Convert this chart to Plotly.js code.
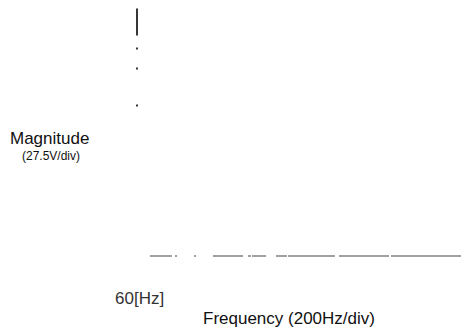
<!DOCTYPE html>
<html>
<head>
<meta charset="utf-8">
<script src="https://cdn.plot.ly/plotly-3.0.1.min.js"></script>
<style>
  html, body { margin: 0; padding: 0; background: #fff; }
  #chart { width: 461px; height: 327px; }
</style>
</head>
<body>
<div id="chart"></div>
<script>
// Spectrum of the line voltage: one fundamental component and a flat harmonic floor.
const fundamentalHz = [60];
const fundamentalV = [247.5];          // 9 divisions at 27.5 V/div
const floorHz = [112, 1356];           // span of the harmonic floor
const floorV = [0, 0];

const fundamentalLabel = '60[Hz]';
const xTitle = 'Frequency (200Hz/div)';
const yTitle = 'Magnitude';
const yScale = '(27.5V/div)';

const font = '"Liberation Sans", Arial, sans-serif';

// Stem of the fundamental, drawn from its tip down to zero.
const stem = {
  type: 'scatter', mode: 'lines',
  x: [fundamentalHz[0], fundamentalHz[0]],
  y: [fundamentalV[0], 0],
  line: { color: '#222', width: 1.8, dash: '27px,12px,2px,18px,2px,35px,2px,400px' },
  hoverinfo: 'skip'
};

// Harmonic floor along the zero line.
const floor = {
  type: 'scatter', mode: 'lines',
  x: floorHz, y: floorV,
  line: { color: '#444', width: 1.2,
          dash: '22px,3px,2px,17px,2px,17px,30px,5px,3px,1px,14px,10px,11px,1px,47px,4px,50px,2px,80px' },
  hoverinfo: 'skip'
};

const hidden = { visible: false, showgrid: false, zeroline: false, fixedrange: true };

const layout = {
  width: 461, height: 327,
  margin: { l: 0, r: 0, t: 0, b: 0 },
  paper_bgcolor: '#fff', plot_bgcolor: '#fff',
  showlegend: false,
  xaxis: Object.assign({ range: [-488, 1356] }, hidden),
  yaxis: Object.assign({ range: [-71, 256] }, hidden),
  annotations: [
    { x: -292, y: 118, text: yTitle, showarrow: false,
      font: { family: font, size: 17, color: '#111' } },
    { x: -286, y: 100, text: yScale, showarrow: false,
      font: { family: font, size: 12, color: '#111' } },
    { x: fundamentalHz[0] + 8, y: -42, text: fundamentalLabel, showarrow: false,
      font: { family: font, size: 17, color: '#333' } },
    { x: 668, y: -62, text: xTitle, showarrow: false,
      font: { family: font, size: 17, color: '#111' } }
  ]
};

Plotly.newPlot('chart', [stem, floor], layout, { staticPlot: true, displayModeBar: false });
</script>
</body>
</html>
